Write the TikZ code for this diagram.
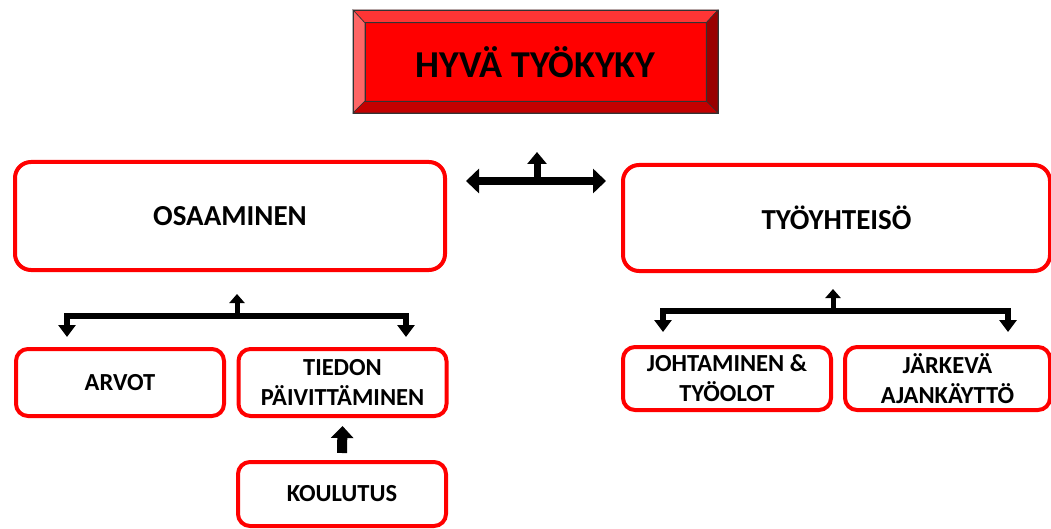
\documentclass[tikz,border=0pt]{standalone}
\usepackage{fontspec}
\setmainfont{Carlito}
\usetikzlibrary{arrows.meta,positioning,calc}

\definecolor{facered}{HTML}{FF0000}
\definecolor{lightbevel}{HTML}{FF6666}
\definecolor{topbevel}{HTML}{FF3535}
\definecolor{darkbevel}{HTML}{990000}
\definecolor{lowbevel}{HTML}{C40000}
\definecolor{boxred}{HTML}{FF0000}

\begin{document}
\begin{tikzpicture}[
  x=1pt, y=-1pt, font=\bfseries, line join=miter,
  bevel/.style={draw=black!80, line width=0.6pt},
  mainbox/.style={rectangle, draw=boxred, line width=4pt, rounded corners=16pt, fill=white, font=\fontsize{29}{34}\selectfont\bfseries},
  smallbox/.style={rectangle, draw=boxred, line width=4pt, rounded corners=12pt, fill=white, minimum width=208pt, align=center, inner sep=0pt, font=\fontsize{24.5}{30}\selectfont\bfseries},
  bigarrow/.style={line width=8pt, {Triangle[length=13pt,width=24pt]}-{Triangle[length=13pt,width=24pt]}},
  uparrow/.style={line width=6pt, -{Triangle[length=11pt,width=17pt]}},
  bracket/.style={line width=6pt, {Triangle[length=12pt,width=17pt]}-{Triangle[length=12pt,width=17pt]}}
]
\useasboundingbox (0,0) rectangle (1051,529);
\clip (0,0) rectangle (1051,529);

% title plate
\node[rectangle, fill=facered, minimum width=341pt, minimum height=78pt, font=\fontsize{38}{44}\selectfont\bfseries] (title) at (535.5,62) {HYVÄ TYÖKYKY};
\fill[topbevel, bevel] (353,10) -- (718,10) -- (title.north east) -- (title.north west) -- cycle;
\fill[lightbevel, bevel] (353,10) -- (title.north west) -- (title.south west) -- (353,113) -- cycle;
\fill[darkbevel, bevel] (718,10) -- (title.north east) -- (title.south east) -- (718,113) -- cycle;
\fill[lowbevel, bevel] (353,113) -- (title.south west) -- (title.south east) -- (718,113) -- cycle;
\draw[bevel] (title.north west) rectangle (title.south east);
\draw[bevel] (353,10) rectangle (718,113);

% main boxes
\node[mainbox, minimum width=430pt, minimum height=108pt] (osaaminen) at (230,216) {OSAAMINEN};
\node[mainbox, minimum width=427pt, minimum height=106pt] (yhteiso) at (836.5,218) {TYÖYHTEISÖ};

\coordinate (topleft) at (466,181);
\coordinate (topright) at (606,181);
\coordinate (topmid) at (537,181);
\coordinate (toptip) at (537,152);
\draw[bigarrow] (topleft) -- (topright);
\draw[uparrow, line width=7pt, -{Triangle[length=12pt,width=19pt]}] (topmid) -- (toptip);

% left branch
\node[smallbox, minimum height=67pt] (arvot) at (120,382.5) {ARVOT};
\node[smallbox, minimum height=67pt] (tiedon) at (342.5,382.5) {TIEDON\\PÄIVITTÄMINEN};
\node[smallbox, minimum height=64pt] (koulutus) at (342,494) {KOULUTUS};

\coordinate (lbarmid) at (237,316);
\coordinate (lbartip) at (237,294);
\draw[bracket] (67,337) -- (67,316) -- (406,316) -- (406,337);
\draw[uparrow, line width=5pt, -{Triangle[length=9pt,width=15pt]}] (lbarmid) -- (lbartip);

\draw[uparrow, line width=10pt, -{Triangle[length=12pt,width=22pt]}] ([yshift=7pt]koulutus.north) -- ([yshift=-8pt]tiedon.south);

% right branch
\node[smallbox, minimum height=63pt] (johtaminen) at (727,378.5) {JOHTAMINEN \&\\TYÖOLOT};
\node[smallbox, minimum width=205pt, minimum height=63pt] (ajankaytto) at (947.5,378.5) {JÄRKEVÄ\\AJANKÄYTTÖ};

\coordinate (rbarmid) at (833,311);
\coordinate (rbartip) at (833,289);
\draw[bracket] (663,332) -- (663,311) -- (1008,311) -- (1008,332);
\draw[uparrow, line width=5pt, -{Triangle[length=9pt,width=15pt]}] (rbarmid) -- (rbartip);
\end{tikzpicture}
\end{document}
